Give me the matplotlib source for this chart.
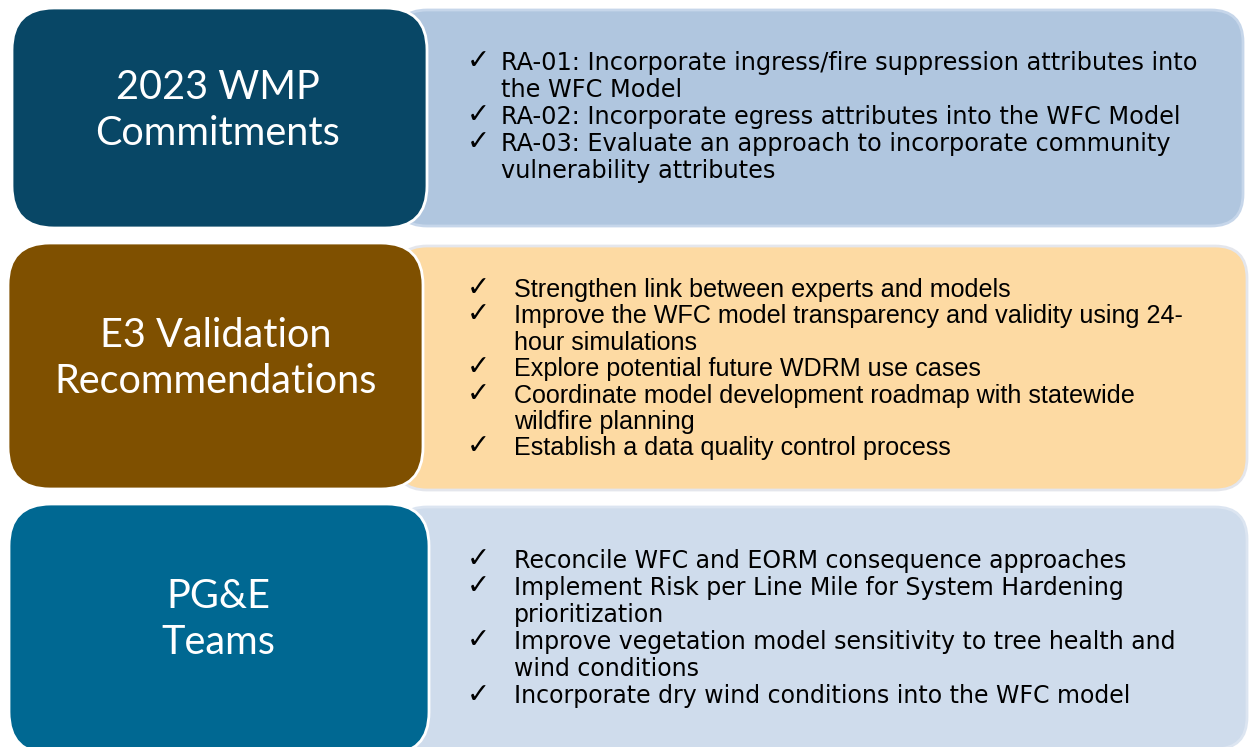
import matplotlib.pyplot as plt
from matplotlib.patches import FancyBboxPatch

# 見出し (左側の箱)
headings = [
    ["2023 WMP", "Commitments"],
    ["E3 Validation", "Recommendations"],
    ["PG&E", "Teams"],
]

# 各箱の項目 (折り返しは元画像どおり)
items_wmp = [
    ["RA-01: Incorporate ingress/fire suppression attributes into", "the WFC Model"],
    ["RA-02: Incorporate egress attributes into the WFC Model"],
    ["RA-03: Evaluate an approach to incorporate community", "vulnerability attributes"],
]
items_e3 = [
    ["Strengthen link between experts and models"],
    ["Improve the WFC model transparency and validity using 24-", "hour simulations"],
    ["Explore potential future WDRM use cases"],
    ["Coordinate model development roadmap with statewide", "wildfire planning"],
    ["Establish a data quality control process"],
]
items_pge = [
    ["Reconcile WFC and EORM consequence approaches"],
    ["Implement Risk per Line Mile for System Hardening", "prioritization"],
    ["Improve vegetation model sensitivity to tree health and", "wind conditions"],
    ["Incorporate dry wind conditions into the WFC model"],
]
all_items = [items_wmp, items_e3, items_pge]

left_colors = ["#084766", "#7F5000", "#006892"]
right_colors = ["#B0C6DF", "#FDDAA3", "#CFDCEC"]
right_edges = ["#C6D6EA", "#E4E6EC", "#DCE5F1"]

# レイアウト (px)
left_boxes = [(12, 8, 415, 220), (8, 243, 415, 246), (9, 504, 420, 250)]
right_boxes = [(395, 10, 848, 216), (395, 246, 852, 244), (395, 507, 852, 242)]
head_base = [(99, 145), (347, 393), (608, 654)]
head_x = [218, 216, 218]
item_start = [70, 297, 568]
item_step = [27.0, 26.4, 27.1]
item_size = [17.3, 18.1, 17.0]
# 2番目の箱は元画像で横に伸びていないので Arial 相当のまま
item_font = ["DejaVu Sans", "Liberation Sans", "DejaVu Sans"]
check_x = [467, 467, 467]
text_x = [501, 514, 514]

fig = plt.figure(figsize=(12.49, 7.47), dpi=100)
ax = fig.add_axes([0, 0, 1, 1])
ax.set_xlim(0, 1249)
ax.set_ylim(747, 0)
ax.axis("off")

for i in range(3):
    x, y, w, h = right_boxes[i]
    ax.add_patch(FancyBboxPatch((x, y), w, h, boxstyle="round,pad=0,rounding_size=32",
                                facecolor=right_colors[i], edgecolor=right_edges[i],
                                linewidth=2, zorder=1))
    x, y, w, h = left_boxes[i]
    ax.add_patch(FancyBboxPatch((x, y), w, h, boxstyle="round,pad=0,rounding_size=42",
                                facecolor=left_colors[i], edgecolor="white",
                                linewidth=2, zorder=2))
    for line, ly in zip(headings[i], head_base[i]):
        ax.text(head_x[i], ly, line, color="white", fontsize=28.5, family="Lato",
                ha="center", va="baseline", zorder=3)

    n = 0
    for item in all_items[i]:
        ly = item_start[i] + n * item_step[i]
        ax.text(check_x[i], ly - 1, "\u2713", fontsize=20, family="DejaVu Sans",
                ha="left", va="baseline", color="black", zorder=3)
        for line in item:
            ly = item_start[i] + n * item_step[i]
            ax.text(text_x[i], ly, line, fontsize=item_size[i], family=item_font[i],
                    ha="left", va="baseline", color="black", zorder=3)
            n += 1

fig.savefig("out.png", dpi=100)
